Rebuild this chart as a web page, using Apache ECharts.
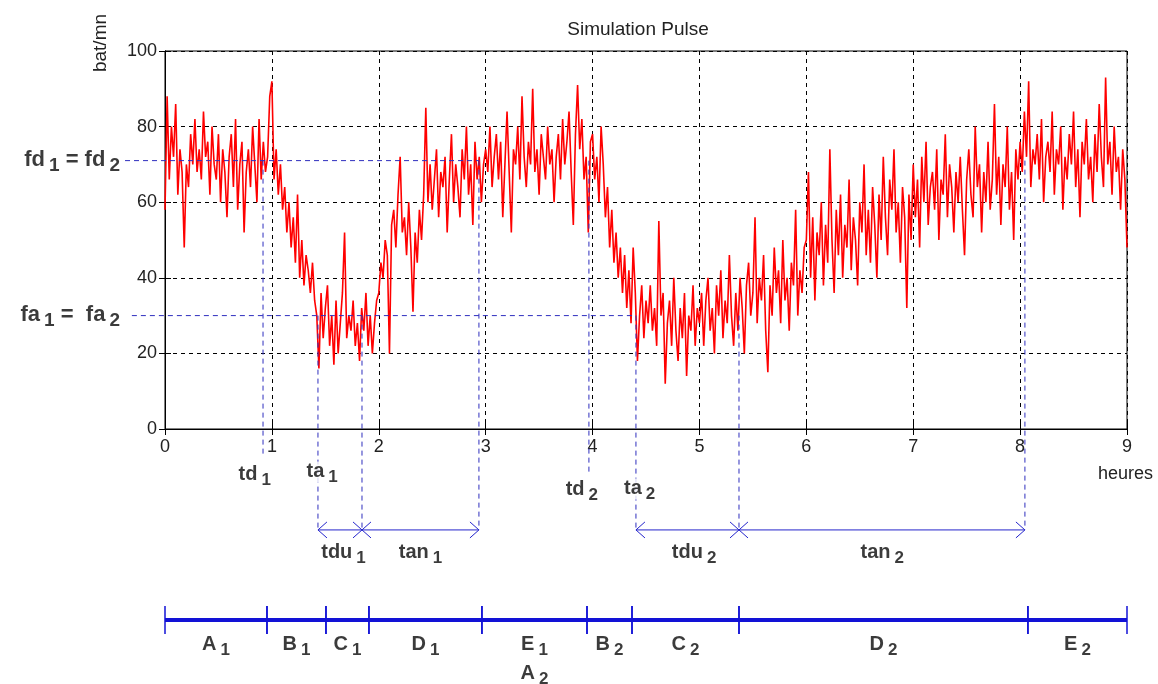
<!DOCTYPE html>
<html>
<head>
<meta charset="utf-8">
<title>Simulation Pulse</title>
<script src="https://cdn.jsdelivr.net/npm/echarts@6/dist/echarts.min.js"></script>
<style>
    html, body { margin: 0; padding: 0; background: #fff; }
    #chart { width: 1158px; height: 684px; }
</style>
</head>
<body>
<div id="chart"></div>
<script>
// pulse read every 0.02 h, one array per hour (bat/mn)
const STEP = 0.02;
const pulseH0 = [58, 88, 66, 80, 72, 86, 62, 74, 68, 48, 70, 64, 78, 70, 82, 68, 74, 66, 84, 72, 76, 62, 80, 70, 66, 78, 60, 74, 68, 56, 72, 78, 64, 82, 58, 70, 76, 52, 68, 74, 64, 80, 70, 60, 82, 66, 76, 68, 72, 88];
const pulseH1 = [92, 66, 74, 62, 70, 58, 64, 52, 60, 48, 56, 44, 62, 40, 50, 38, 46, 42, 36, 44, 34, 30, 16, 36, 24, 32, 38, 22, 30, 17, 34, 20, 28, 36, 52, 24, 30, 26, 34, 22, 28, 18, 32, 26, 36, 22, 30, 20, 28, 34];
const pulseH2 = [36, 44, 40, 50, 46, 20, 54, 58, 48, 62, 72, 52, 56, 46, 60, 48, 31, 52, 44, 58, 50, 62, 85, 60, 70, 58, 66, 74, 56, 68, 64, 72, 52, 66, 78, 60, 70, 64, 56, 74, 66, 80, 62, 70, 54, 76, 66, 72, 60, 70];
const pulseH3 = [74, 68, 80, 64, 72, 78, 66, 76, 56, 70, 84, 68, 52, 74, 70, 80, 66, 88, 72, 64, 76, 70, 90, 68, 74, 62, 78, 72, 66, 80, 70, 74, 60, 72, 78, 66, 82, 70, 76, 84, 68, 54, 78, 91, 74, 82, 66, 72, 52, 76];
const pulseH4 = [78, 66, 72, 60, 80, 70, 56, 64, 48, 58, 44, 52, 40, 48, 36, 46, 32, 42, 28, 48, 36, 18, 30, 38, 24, 34, 28, 38, 26, 32, 22, 55, 30, 36, 12, 28, 34, 22, 40, 26, 18, 32, 24, 36, 14, 30, 26, 38, 22, 32];
const pulseH5 = [28, 36, 22, 34, 40, 26, 32, 20, 38, 30, 42, 24, 34, 28, 46, 30, 22, 36, 26, 40, 32, 20, 38, 44, 30, 36, 56, 28, 40, 34, 46, 26, 15, 38, 30, 48, 36, 42, 28, 50, 34, 40, 26, 44, 38, 58, 30, 42, 36, 48];
const pulseH6 = [50, 68, 40, 56, 34, 52, 46, 60, 38, 54, 44, 74, 50, 36, 58, 46, 62, 40, 54, 48, 66, 42, 56, 50, 38, 60, 52, 70, 46, 58, 44, 64, 54, 40, 62, 50, 72, 56, 46, 66, 58, 74, 52, 60, 44, 64, 56, 32, 62, 50];
const pulseH7 = [70, 56, 66, 48, 72, 60, 76, 54, 64, 68, 58, 74, 50, 66, 62, 78, 56, 70, 64, 52, 68, 60, 72, 58, 46, 66, 74, 62, 56, 80, 64, 70, 52, 68, 60, 76, 58, 66, 86, 62, 72, 54, 70, 64, 80, 58, 68, 50, 74, 66];
const pulseH8 = [76, 68, 84, 72, 92, 64, 74, 70, 78, 66, 82, 60, 72, 76, 68, 84, 62, 74, 70, 80, 58, 72, 66, 78, 70, 84, 64, 74, 56, 76, 70, 82, 66, 72, 60, 78, 68, 86, 72, 64, 93, 70, 76, 62, 80, 68, 72, 58, 74, 66, 48];

// reference levels
const fdLevel = 71;   // fd1 = fd2
const faLevel = 30;   // fa1 = fa2

// guide times (h) and the level they drop from
const eventTimes = [0.917, 1.431, 1.843, 2.937, 3.966, 4.406, 5.37, 8.045];
const eventFrom = [fdLevel, faLevel, faLevel, fdLevel, fdLevel, faLevel, faLevel, fdLevel];

// durations (arrows)
const durNames = ['tdu', 'tan', 'tdu', 'tan'];
const durSubs = ['1', '1', '2', '2'];
const durStart = [1.431, 1.843, 4.406, 5.37];
const durEnd = [1.843, 2.937, 5.37, 8.045];

// phases on the bottom time line
const phaseBounds = [0, 0.954, 1.506, 1.908, 2.965, 3.948, 4.369, 5.37, 8.073, 9];
const phaseNames = ['A', 'B', 'C', 'D', 'E', 'B', 'C', 'D', 'E'];
const phaseSubs = ['1', '1', '1', '1', '1', '2', '2', '2', '2'];

// ---- layout (overlay grid uses same scale as the plot, extended below 0)
const FONT = '"Liberation Sans", Arial, sans-serif';
const GUIDE_BLUE = '#2e2ebe';
const ARROW_BLUE = '#2424cc';
const LINE_BLUE = '#1212d6';
const ARROW_Y = -26.7;
const DUR_LABEL_Y = -32.8;
const TIMELINE_Y = -50.5;
const PHASE_LABEL_Y = -57.2;
const guideEnd = [-7, ARROW_Y, ARROW_Y, ARROW_Y, -12, ARROW_Y, ARROW_Y, ARROW_Y];
const durLabelX = [1.67, 2.39, 4.95, 6.71];
const tagLabels = [
    ['td', '1', 0.84, -12.2],
    ['ta', '1', 1.47, -11.4],
    ['td', '2', 3.90, -16.1],
    ['ta', '2', 4.44, -15.9]
];

const pulse = [].concat(pulseH0, pulseH1, pulseH2, pulseH3, pulseH4, pulseH5, pulseH6, pulseH7, pulseH8);
const pulseData = pulse.map((v, i) => [+(i * STEP).toFixed(2), v]);

// dashed guides: [x1, y1, x2, y2]
const guides = [
    [-0.374, fdLevel, 2.937, fdLevel],
    [-0.31, faLevel, 4.406, faLevel]
];
eventTimes.forEach((t, i) => guides.push([t, eventFrom[i], t, guideEnd[i]]));

const arrows = durStart.map((s, i) => [s, durEnd[i], ARROW_Y]);
const segments = phaseNames.map((n, i) => [phaseBounds[i], phaseBounds[i + 1], TIMELINE_Y]);

const sub = (m, s) => '{m|' + m + '}{s|' + s + '}';
const labelItems = [
    { value: [-0.37, fdLevel], text: '{L|fd}{Ls|1}{L| = fd}{Ls|2}', label: { position: 'left', distance: 5 } },
    { value: [-0.37, faLevel], text: '{L|fa}{Ls|1}{L| =  fa}{Ls|2}', label: { position: 'left', distance: 5 } }
];
tagLabels.forEach(t => labelItems.push({ value: [t[2], t[3]], text: sub(t[0], t[1]), label: { backgroundColor: '#fff' } }));
durNames.forEach((n, i) => labelItems.push({ value: [durLabelX[i], DUR_LABEL_Y], text: sub(n, durSubs[i]) }));
phaseNames.forEach((n, i) => labelItems.push({
    value: [(phaseBounds[i] + phaseBounds[i + 1]) / 2, PHASE_LABEL_Y], text: sub(n, phaseSubs[i])
}));
labelItems.push({ value: [(phaseBounds[4] + phaseBounds[5]) / 2, -64.8], text: sub('A', '2') });

const bold = { fontFamily: FONT, fontWeight: 'bold', color: '#0a0a0a', verticalAlign: 'top' };
const rich = {
    m: Object.assign({ fontSize: 20, lineHeight: 21 }, bold),
    s: Object.assign({ fontSize: 17, lineHeight: 21, padding: [7, 0, 0, 4] }, bold),
    L: Object.assign({ fontSize: 22, lineHeight: 23 }, bold),
    Ls: Object.assign({ fontSize: 19, lineHeight: 23, padding: [7, 0, 0, 4] }, bold)
};

function guideItem(params, api) {
    const a = api.coord([api.value(0), api.value(1)]);
    const b = api.coord([api.value(2), api.value(3)]);
    return {
        type: 'line',
        shape: { x1: a[0], y1: a[1], x2: b[0], y2: b[1] },
        style: { stroke: GUIDE_BLUE, lineWidth: 1, lineDash: [5, 4] }
    };
}

function arrowItem(params, api) {
    const a = api.coord([api.value(0), api.value(2)]);
    const b = api.coord([api.value(1), api.value(2)]);
    const st = { stroke: ARROW_BLUE, lineWidth: 1, fill: null };
    return {
        type: 'group',
        children: [
            { type: 'line', shape: { x1: a[0], y1: a[1], x2: b[0], y2: b[1] }, style: st },
            { type: 'polyline', shape: { points: [[a[0] + 9, a[1] - 8], [a[0], a[1]], [a[0] + 9, a[1] + 8]] }, style: st },
            { type: 'polyline', shape: { points: [[b[0] - 9, b[1] - 8], [b[0], b[1]], [b[0] - 9, b[1] + 8]] }, style: st }
        ]
    };
}

function segmentItem(params, api) {
    const a = api.coord([api.value(0), api.value(2)]);
    const b = api.coord([api.value(1), api.value(2)]);
    const tick = { stroke: LINE_BLUE, lineWidth: 1.5 };
    return {
        type: 'group',
        children: [
            { type: 'line', shape: { x1: a[0], y1: a[1], x2: b[0], y2: b[1] }, style: { stroke: LINE_BLUE, lineWidth: 4 } },
            { type: 'line', shape: { x1: a[0], y1: a[1] - 14, x2: a[0], y2: a[1] + 14 }, style: tick },
            { type: 'line', shape: { x1: b[0], y1: b[1] - 14, x2: b[0], y2: b[1] + 14 }, style: tick }
        ]
    };
}

const tickText = { fontFamily: FONT, fontSize: 18, color: '#222' };

let myChart = echarts.init(document.getElementById('chart'));
let option = {
    animation: false,
    backgroundColor: '#fff',
    title: {
        text: 'Simulation Pulse',
        left: 633,
        top: 15,
        textAlign: 'center',
        textStyle: { fontFamily: FONT, fontSize: 19, fontWeight: 'normal', color: '#222' }
    },
    grid: [
        { left: 165, top: 51, width: 962, height: 378, show: true, borderColor: '#000', borderWidth: 1, outerBoundsMode: 'none' },
        { left: 165, top: 51, width: 962, height: 604.8, outerBoundsMode: 'none' }
    ],
    xAxis: [
        {
            gridIndex: 0, type: 'value', min: 0, max: 9, interval: 1, position: 'bottom',
            name: 'heures', nameLocation: 'end', nameGap: -29,
            nameTextStyle: { fontFamily: FONT, fontSize: 18, color: '#222', align: 'left', verticalAlign: 'top', padding: [36, 0, 0, 0] },
            axisLine: { show: true, lineStyle: { color: '#000', width: 1 } },
            axisTick: { show: true, inside: true, length: 6, lineStyle: { color: '#000' } },
            axisLabel: Object.assign({ margin: 9 }, tickText),
            splitLine: { show: true, lineStyle: { color: '#000', width: 1, type: [4, 4] } }
        },
        {
            gridIndex: 0, type: 'value', min: 0, max: 9, interval: 1, position: 'top',
            axisLine: { show: true, lineStyle: { color: '#000' } },
            axisTick: { show: true, inside: true, length: 6, lineStyle: { color: '#000' } },
            axisLabel: { show: false },
            splitLine: { show: false }
        },
        { gridIndex: 1, type: 'value', min: 0, max: 9, show: false }
    ],
    yAxis: [
        {
            gridIndex: 0, type: 'value', min: 0, max: 100, interval: 20,
            name: 'bat/mn', nameLocation: 'end', nameRotate: 90, nameGap: 8,
            nameTextStyle: { fontFamily: FONT, fontSize: 19, color: '#222', align: 'center', verticalAlign: 'bottom', padding: [0, 0, 55, 0] },
            axisLine: { show: true, lineStyle: { color: '#000', width: 1 } },
            axisTick: { show: true, inside: true, length: 6, lineStyle: { color: '#000' } },
            axisLabel: Object.assign({ margin: 8 }, tickText),
            splitLine: { show: true, lineStyle: { color: '#000', width: 1, type: [4, 4] } }
        },
        {
            gridIndex: 0, type: 'value', min: 0, max: 100, interval: 20, position: 'right',
            axisLine: { show: true, lineStyle: { color: '#000' } },
            axisTick: { show: true, inside: true, length: 6, lineStyle: { color: '#000' } },
            axisLabel: { show: false },
            splitLine: { show: false }
        },
        { gridIndex: 1, type: 'value', min: -60, max: 100, show: false }
    ],
    series: [
        {
            name: 'pulse',
            type: 'line',
            xAxisIndex: 0,
            yAxisIndex: 0,
            data: pulseData,
            showSymbol: false,
            lineStyle: { color: '#ff0000', width: 1.6 },
            z: 3
        },
        {
            name: 'guides',
            type: 'custom',
            xAxisIndex: 2,
            yAxisIndex: 2,
            renderItem: guideItem,
            data: guides,
            silent: true,
            z: 4
        },
        {
            name: 'durations',
            type: 'custom',
            xAxisIndex: 2,
            yAxisIndex: 2,
            renderItem: arrowItem,
            data: arrows,
            silent: true,
            z: 4
        },
        {
            name: 'phases',
            type: 'custom',
            xAxisIndex: 2,
            yAxisIndex: 2,
            renderItem: segmentItem,
            data: segments,
            silent: true,
            z: 4
        },
        {
            name: 'labels',
            type: 'scatter',
            xAxisIndex: 2,
            yAxisIndex: 2,
            data: labelItems,
            symbolSize: 1,
            clip: false,
            silent: true,
            itemStyle: { color: 'rgba(0,0,0,0)' },
            label: {
                show: true,
                position: 'inside',
                formatter: p => p.data.text,
                rich: rich
            },
            z: 6
        }
    ]
};
option && myChart.setOption(option);
</script>
</body>
</html>
